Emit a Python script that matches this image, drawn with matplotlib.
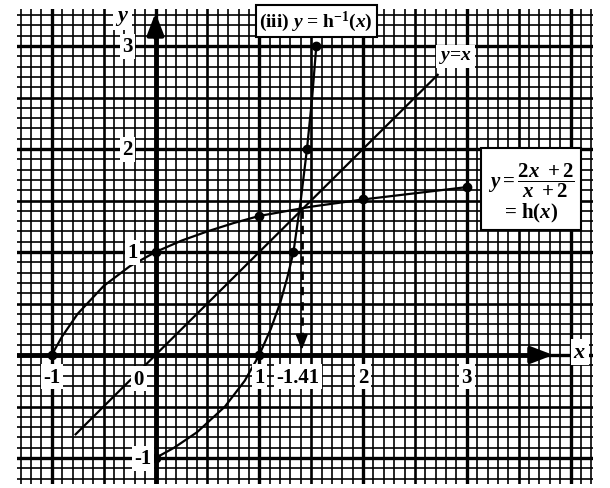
import matplotlib
matplotlib.use("Agg")
import matplotlib.pyplot as plt
import numpy as np

plt.rcParams['font.family'] = ['Liberation Serif', 'DejaVu Serif']
plt.rcParams['font.weight'] = 'bold'
plt.rcParams['mathtext.fontset'] = 'custom'
plt.rcParams['mathtext.rm'] = 'Liberation Serif:bold'
plt.rcParams['mathtext.it'] = 'Liberation Serif:italic:bold'
plt.rcParams['mathtext.bf'] = 'Liberation Serif:bold'

# curve y = h(x)
h_x = [-1.0, -0.9, -0.75, -0.5, -0.25, 0.0, 0.25, 0.5, 0.75, 1.0, 1.5, 2.0, 2.5, 3.0]
h_y = [0.0, 0.18, 0.40, 0.67, 0.86, 1.0, 1.11, 1.20, 1.28, 1.35, 1.44, 1.51, 1.57, 1.63]
h_dots_x = [-1, 0, 1, 2, 3]
h_dots_y = [0, 1, 1.35, 1.51, 1.63]

# inverse curve y = h^-1(x)
inv_x = [0.0, 0.18, 0.40, 0.67, 0.86, 1.0, 1.11, 1.20, 1.27, 1.33, 1.40, 1.46, 1.51, 1.55]
inv_y = [-1.0, -0.9, -0.75, -0.5, -0.25, 0.0, 0.25, 0.5, 0.75, 1.0, 1.5, 2.0, 2.5, 3.0]
inv_dots_x = [0, 1, 1.33, 1.46, 1.55]
inv_dots_y = [-1, 0, 1, 2, 3]

# line y = x
line_x = [-0.77, 2.72]
line_y = [-0.77, 2.72]

# intersection
root = 1.41

x_ticks = [-1, 1, 2, 3]
x_tick_labels = ['-1', '1', '2', '3']
y_ticks = [3, 2, 1, -1]
y_tick_labels = ['3', '2', '1', '-1']

W, H = 610, 489
fig = plt.figure(figsize=(W / 100, H / 100), dpi=100)
# paper area in pixels
px0, px1, py0, py1 = 17, 593, 10, 485
ax = fig.add_axes([px0 / W, 1 - py1 / H, (px1 - px0) / W, (py1 - py0) / H])
sx, ox = 103.75, 155.5
sy, oy = 103.0, 356.0
ax.set_xlim((px0 - ox) / sx, (px1 - ox) / sx)
ax.set_ylim((oy - py1) / sy, (oy - py0) / sy)
ax.axis('off')

# graph paper grid
xmin, xmax = ax.get_xlim()
ymin, ymax = ax.get_ylim()
for i in range(int(np.floor(xmin * 10)), int(np.ceil(xmax * 10)) + 1):
    v = i / 10
    if v < xmin or v > xmax:
        continue
    lw = 2.4 if i % 10 == 0 else (1.9 if i % 5 == 0 else 1.2)
    ax.axvline(v, color='black', lw=lw, zorder=1)
for i in range(int(np.floor(ymin * 10)), int(np.ceil(ymax * 10)) + 1):
    v = i / 10
    if v < ymin or v > ymax:
        continue
    lw = 2.4 if i % 10 == 0 else (1.9 if i % 5 == 0 else 1.2)
    ax.axhline(v, color='black', lw=lw, zorder=1)

# axes with arrows
ax.plot([xmin, 3.72], [0, 0], color='black', lw=3.5, zorder=3)
ax.annotate('', xy=(3.86, 0), xytext=(3.6, 0),
            arrowprops=dict(arrowstyle='-|>,head_length=1.3,head_width=0.5', color='black', lw=3), zorder=4)
ax.plot([0, 0], [ymin, 3.15], color='black', lw=3.5, zorder=3)
ax.annotate('', xy=(0, 3.35), xytext=(0, 3.05),
            arrowprops=dict(arrowstyle='-|>,head_length=1.3,head_width=0.5', color='black', lw=3), zorder=4)

# curves
ax.plot(h_x, h_y, color='black', lw=1.6, zorder=5)
ax.plot(h_dots_x, h_dots_y, 'o', color='black', ms=6, zorder=6)
ax.plot(inv_x, inv_y, color='black', lw=1.6, zorder=5)
ax.plot(inv_dots_x, inv_dots_y, 'o', color='black', ms=6, zorder=6)
ax.plot(line_x, line_y, color='black', lw=1.6, zorder=5)

# dashed arrow down from intersection
ax.plot([root, root], [root, 0.12], color='black', lw=2, ls=(0, (3, 2.5)), zorder=5)
ax.annotate('', xy=(root, 0.02), xytext=(root, 0.16),
            arrowprops=dict(arrowstyle='-|>,head_length=0.9,head_width=0.35', color='black', lw=1.5), zorder=6)

box = dict(boxstyle='square,pad=0.12', fc='white', ec='none')
for t, lab in zip(x_ticks, x_tick_labels):
    ax.text(t, -0.21, lab, ha='center', va='center', fontsize=15, bbox=box, zorder=7)
ax.text(1.37, -0.21, '-1.41', ha='center', va='center', fontsize=15, bbox=box, zorder=7)
ax.text(-0.16, -0.23, '0', ha='center', va='center', fontsize=15, bbox=box, zorder=7)
y_lab_x = [-0.27, -0.27, -0.22, -0.12]
for t, lab, lx in zip(y_ticks, y_tick_labels, y_lab_x):
    ax.text(lx, t, lab, ha='center', va='center', fontsize=15, bbox=box, zorder=7)
ax.text(-0.32, 3.28, '$y$', ha='center', va='center', fontsize=16, bbox=box, zorder=7)
ax.text(4.09, 0.03, '$x$', ha='center', va='center', fontsize=16, bbox=box, zorder=7)
ax.text(2.89, 2.9, '$y$=$x$', ha='center', va='center', fontsize=14,
        bbox=dict(boxstyle='square,pad=0.15', fc='white', ec='none'), zorder=7)

ax.text(1.55, 3.24, '(iii) $y$ = h$^{-1}$($x$)', ha='center', va='center', fontsize=14,
        bbox=dict(boxstyle='square,pad=0.2', fc='white', ec='black', lw=1.5), zorder=7)
ax.text(3.62, 1.58, '$y = \\dfrac{2x\\ +2}{x\\ +2}$\n= h($x$)', ha='center', va='center',
        fontsize=15, linespacing=1.1,
        bbox=dict(boxstyle='square,pad=0.3', fc='white', ec='black', lw=1.5), zorder=7)

fig.savefig('out.png', dpi=100, facecolor='white')
